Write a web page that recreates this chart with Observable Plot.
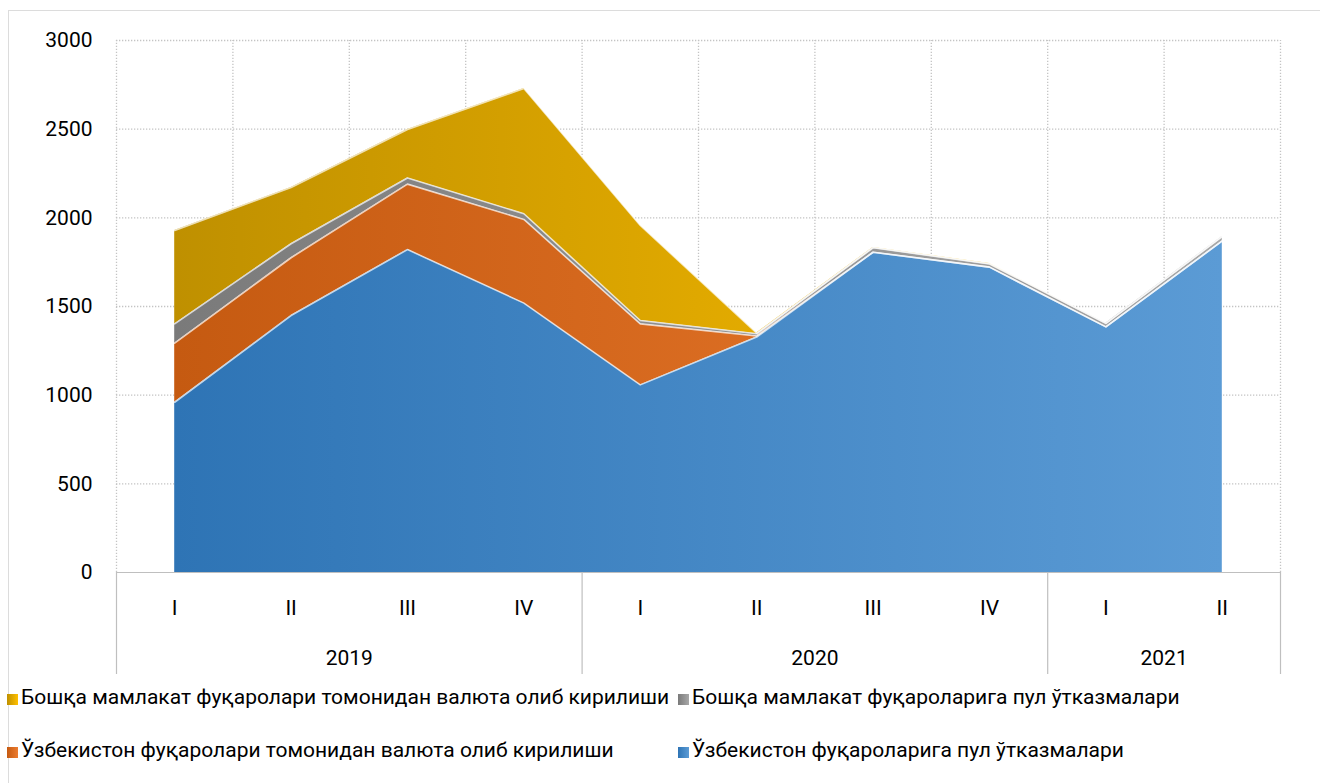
<!DOCTYPE html>
<html>
<head>
<meta charset="utf-8">
<script src="https://cdn.jsdelivr.net/npm/d3@7"></script>
<script src="https://cdn.jsdelivr.net/npm/@observablehq/plot@0.6"></script>
<style>
  body { margin: 0; background: #fff; font-family: Roboto, "Noto Sans", sans-serif; }
  #wrap { position: relative; width: 1320px; height: 783px; overflow: hidden; background: #fff; }
  #frame { position: absolute; left: 8px; top: 10px; width: 1340px; height: 800px; border: 1px solid #dcdcdc; box-sizing: border-box; }
  #chart { position: absolute; left: 0; top: 0; }
  .lg { position: absolute; font-size: 21px; line-height: 26px; color: #000; white-space: nowrap; }
  .sw { display: inline-block; width: 11px; height: 11px; margin-right: 3px; vertical-align: -1px; }
</style>
</head>
<body>
<div id="wrap">
  <div id="frame"></div>
  <div id="chart"></div>
  <div id="legend"></div>
</div>
<script>
// ---- data ----
const quarters = ["I", "II", "III", "IV", "I", "II", "III", "IV", "I", "II"];
const years = ["2019", "2019", "2019", "2019", "2020", "2020", "2020", "2020", "2021", "2021"];
const yearLabels = ["2019", "2020", "2021"];

const seriesNames = [
  "Ўзбекистон фуқароларига пул ўтказмалари",
  "Ўзбекистон фуқаролари томонидан валюта олиб кирилиши",
  "Бошқа мамлакат фуқароларига пул ўтказмалари",
  "Бошқа мамлакат фуқаролари томонидан валюта олиб кирилиши"
];
const uzTransfers      = [960, 1449, 1821, 1519, 1058, 1328, 1806, 1722, 1385, 1870];
const uzCash           = [333,  326,  369,  472,  344,    6,    0,    0,    0,    0];
const foreignTransfers = [109,   79,   35,   32,   19,   12,   25,   18,   20,   25];
const foreignCash      = [527,  317,  273,  706,  536,    4,    2,    2,    0,    0];
const seriesValues = [uzTransfers, uzCash, foreignTransfers, foreignCash];

// gradient colours (left -> right) per series
const gradients = [
  ["g0", "#2E74B5", "#5B9BD5"],
  ["g1", "#C55A11", "#EC7C30"],
  ["g2", "#7A7A7A", "#A8A8A8"],
  ["g3", "#BF9000", "#FFC000"]
];
const yTicks = [0, 500, 1000, 1500, 2000, 2500, 3000];

// ---- table ----
const rows = [];
seriesNames.forEach((s, k) => seriesValues[k].forEach((v, i) => rows.push({ i, series: s, value: v })));
const idx = quarters.map((_, i) => i);
const bounds = d3.range(-0.5, quarters.length, 1);
const yearCenters = yearLabels.map(y => {
  const ii = idx.filter(i => years[i] === y);
  return (ii[0] + ii[ii.length - 1]) / 2;
});
const yearBounds = [-0.5, ...yearLabels.map(y => idx.filter(i => years[i] === y).slice(-1)[0] + 0.5)];

const dotted = { stroke: "#c4c4c4", strokeWidth: 1.3, strokeDasharray: "1.3,1.7" };

const chart = Plot.plot({
  width: 1320,
  height: 680,
  marginLeft: 116,
  marginRight: 40,
  marginTop: 40,
  marginBottom: 108,
  style: { fontFamily: "Roboto, 'Noto Sans', sans-serif", background: "transparent", overflow: "visible" },
  x: { type: "linear", domain: [-0.5, quarters.length - 0.5], axis: null, label: null },
  y: { domain: [0, 3000], axis: null, label: null },
  color: { domain: seriesNames, range: gradients.map(g => `url(#${g[0]})`) },
  marks: [
    Plot.ruleY(yTicks.slice(1), dotted),
    Plot.ruleX(bounds, { y1: 0, y2: 3000, ...dotted }),
    Plot.areaY(rows, { x: "i", y: "value", z: "series", fill: "series", order: seriesNames }),
    Plot.lineY(rows, Plot.stackY2({ x: "i", y: "value", z: "series", order: seriesNames, stroke: "#ffffff", strokeOpacity: 0.7, strokeWidth: 1.6 })),
    Plot.ruleY([0], { stroke: "#bfbfbf", strokeWidth: 1.2 }),
    Plot.axisY({ ticks: yTicks, tickSize: 0, tickPadding: 24, fontSize: 21, tickFormat: d3.format("d"), color: "#000", label: null }),
    // category box separators
    Plot.axisX({ ticks: yearBounds, tickSize: 102, tickFormat: () => "", stroke: "#bfbfbf", strokeWidth: 1.2, label: null }),
    Plot.axisX({ ticks: idx, tickSize: 0, tickPadding: 28, fontSize: 21, tickFormat: i => quarters[i], color: "#000", label: null }),
    Plot.axisX({ ticks: yearCenters, tickSize: 0, tickPadding: 78, fontSize: 21, tickFormat: (d, n) => yearLabels[n], color: "#000", label: null })
  ]
});

// gradient definitions
const defs = d3.select(chart).insert("defs", ":first-child");
gradients.forEach(([id, c1, c2]) => {
  const g = defs.append("linearGradient").attr("id", id).attr("x1", 0).attr("x2", 1).attr("y1", 0).attr("y2", 0);
  g.append("stop").attr("offset", 0).attr("stop-color", c1);
  g.append("stop").attr("offset", 1).attr("stop-color", c2);
});
document.getElementById("chart").appendChild(chart);

// legend (HTML, below svg)
const legendOrder = [3, 2, 1, 0];
const legendPos = [[7, 684], [678, 684], [7, 737], [678, 737]];
const legend = document.getElementById("legend");
legendOrder.forEach((k, n) => {
  const [x, y] = legendPos[n];
  const d = document.createElement("div");
  d.className = "lg";
  d.style.left = x + "px";
  d.style.top = y + "px";
  const sw = document.createElement("span");
  sw.className = "sw";
  sw.style.background = `linear-gradient(to right, ${gradients[k][1]}, ${gradients[k][2]})`;
  d.appendChild(sw);
  d.appendChild(document.createTextNode(seriesNames[k]));
  legend.appendChild(d);
});
</script>
</body>
</html>
